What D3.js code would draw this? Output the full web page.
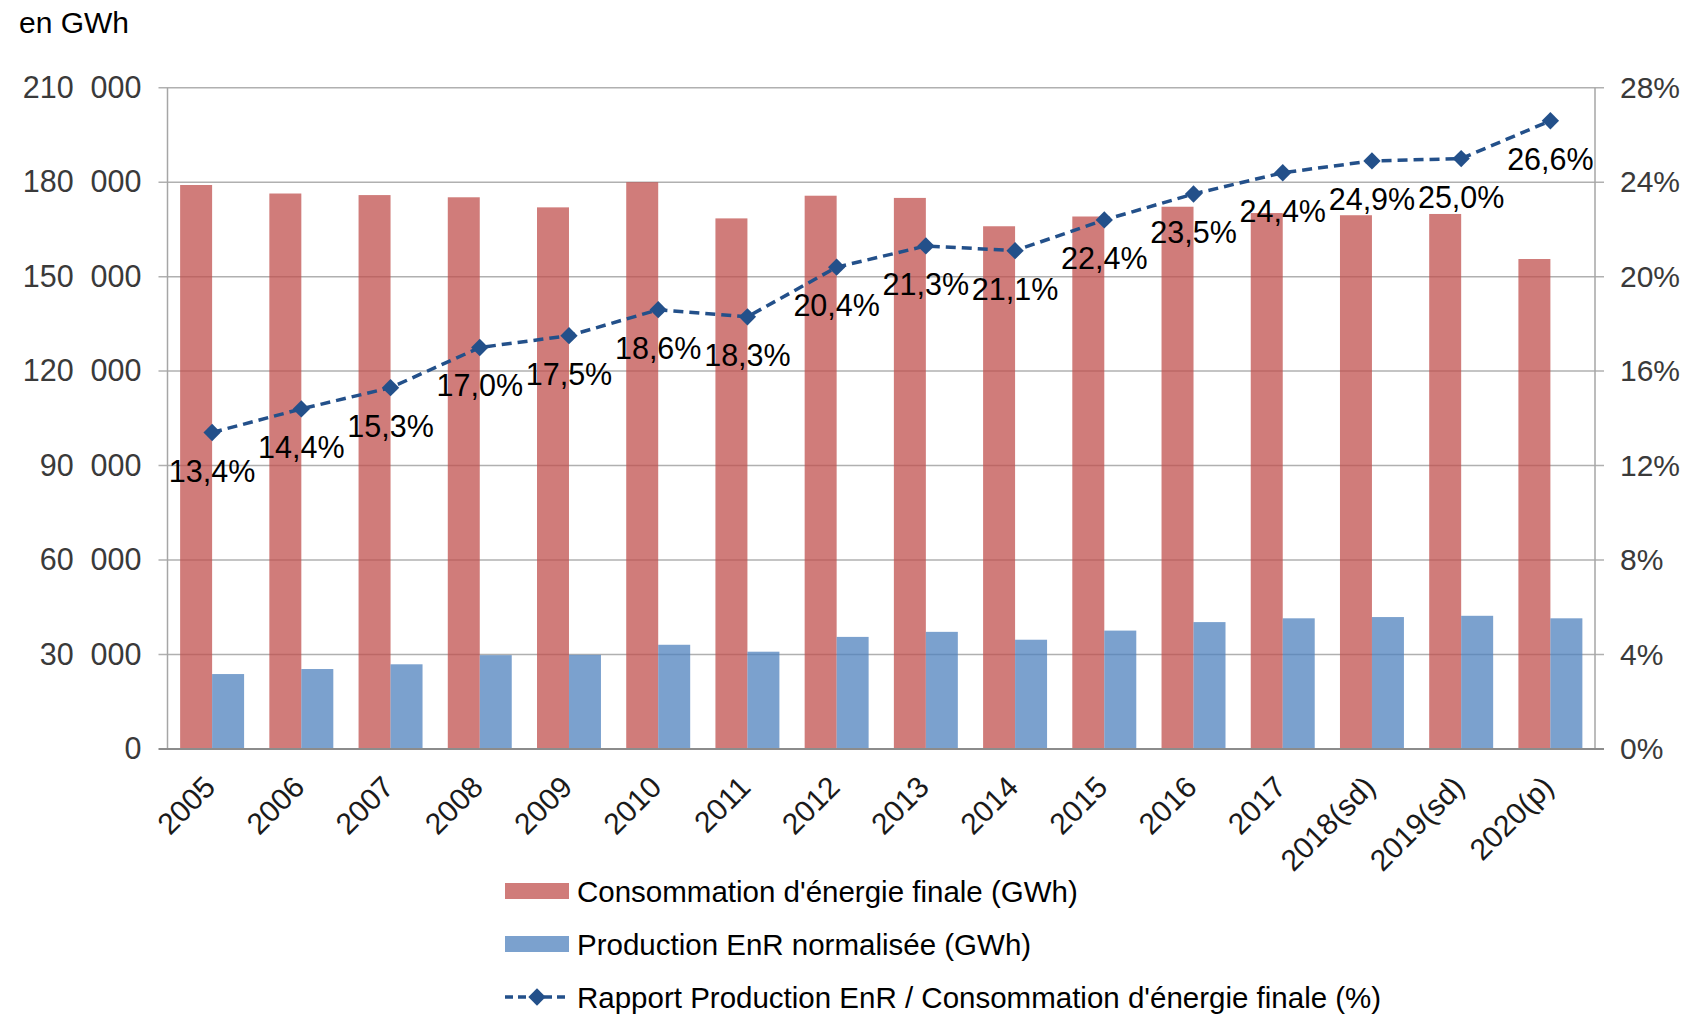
<!DOCTYPE html>
<html>
<head>
<meta charset="utf-8">
<script src="https://cdn.jsdelivr.net/npm/d3@7"></script>
<style>
  body { margin: 0; background: #fff; }
  svg text { font-family: "Liberation Sans", Arial, sans-serif; }
</style>
</head>
<body>
<svg id="chart" width="1693" height="1015"></svg>
<script>
// data
const years = ["2005", "2006", "2007", "2008", "2009", "2010", "2011", "2012", "2013", "2014", "2015", "2016", "2017", "2018(sd)", "2019(sd)", "2020(p)"];
const consommation = [179100, 176400, 175900, 175200, 172000, 180000, 168500, 175700, 175000, 166000, 169100, 172200, 170200, 169500, 169900, 155600];
const production = [23800, 25400, 26900, 29800, 29900, 33100, 30900, 35600, 37200, 34700, 37600, 40300, 41500, 41900, 42300, 41500];
const rapport = [13.4, 14.4, 15.3, 17.0, 17.5, 18.6, 18.3, 20.4, 21.3, 21.1, 22.4, 23.5, 24.4, 24.9, 25.0, 26.6];
const leftTicks = [0, 30000, 60000, 90000, 120000, 150000, 180000, 210000];
const rightTicks = [0, 4, 8, 12, 16, 20, 24, 28];
const seriesNames = ["Consommation d'énergie finale (GWh)", "Production EnR normalisée (GWh)", "Rapport Production EnR / Consommation d'énergie finale (%)"];

const fr = d3.formatLocale({ decimal: ",", thousands: "\u00a0\u00a0", grouping: [3], currency: ["", " €"] });
const fmtGWh = fr.format(",d");
const fmtPct = fr.format(".1f");

const svg = d3.select("#chart");
const plotLeft = 167.5, plotRight = 1595, plotTop = 87.7, plotBottom = 749;

const x = d3.scaleBand().domain(years).range([plotLeft, plotRight]).paddingInner(0.283).paddingOuter(0.1415);
const xs = d3.scaleBand().domain(["c", "p"]).range([0, x.bandwidth()]);
const yL = d3.scaleLinear().domain([0, 210000]).range([plotBottom, plotTop]);
const yR = d3.scaleLinear().domain([0, 28]).range([plotBottom, plotTop]);
const xc = (d) => x(d) + x.bandwidth() / 2;

// gridlines
svg.append("g")
  .selectAll("line")
  .data(leftTicks.slice(1))
  .enter()
  .append("line")
  .attr("x1", plotLeft - 9).attr("x2", plotRight + 9)
  .attr("y1", (d) => yL(d)).attr("y2", (d) => yL(d))
  .attr("stroke", "#b0b0b0").attr("stroke-width", 1.5);

// axis labels
const yAxisL = svg.append("g")
  .attr("transform", `translate(${plotLeft},0)`)
  .call(d3.axisLeft(yL).tickValues(leftTicks).tickSize(0).tickPadding(26).tickFormat(fmtGWh));
yAxisL.select(".domain").remove();
yAxisL.selectAll("text").attr("font-size", 30.5).attr("fill", "#3a3a3a").attr("font-family", "Liberation Sans, Arial, sans-serif");

const yAxisR = svg.append("g")
  .attr("transform", `translate(${plotRight},0)`)
  .call(d3.axisRight(yR).tickValues(rightTicks).tickSize(0).tickPadding(25).tickFormat((d) => d + "%"));
yAxisR.select(".domain").remove();
yAxisR.selectAll("text").attr("font-size", 30).attr("fill", "#3a3a3a").attr("font-family", "Liberation Sans, Arial, sans-serif");

// bars
const groups = svg.append("g")
  .selectAll("g")
  .data(years)
  .enter()
  .append("g")
  .attr("transform", (d) => `translate(${x(d)},0)`);

groups.append("rect")
  .attr("x", xs("c")).attr("width", xs.bandwidth())
  .attr("y", (d, i) => yL(consommation[i]))
  .attr("height", (d, i) => plotBottom - yL(consommation[i]))
  .attr("fill", "#C0504D").attr("fill-opacity", 0.75);

groups.append("rect")
  .attr("x", xs("p")).attr("width", xs.bandwidth())
  .attr("y", (d, i) => yL(production[i]))
  .attr("height", (d, i) => plotBottom - yL(production[i]))
  .attr("fill", "#4F81BD").attr("fill-opacity", 0.75);

// axis lines
svg.append("line").attr("x1", plotLeft).attr("x2", plotLeft).attr("y1", plotTop).attr("y2", plotBottom)
  .attr("stroke", "#a6a6a6").attr("stroke-width", 1.5);
svg.append("line").attr("x1", plotRight).attr("x2", plotRight).attr("y1", plotTop).attr("y2", plotBottom)
  .attr("stroke", "#a6a6a6").attr("stroke-width", 1.5);
svg.append("line").attr("x1", plotLeft - 9).attr("x2", plotRight + 9).attr("y1", plotBottom).attr("y2", plotBottom)
  .attr("stroke", "#8c8c8c").attr("stroke-width", 2);

// x labels
svg.append("g")
  .selectAll("text")
  .data(years)
  .enter()
  .append("text")
  .attr("transform", (d) => `translate(${xc(d) + 5},${plotBottom + 40}) rotate(-45)`)
  .attr("text-anchor", "end")
  .attr("font-size", 30)
  .attr("fill", "#1a1a1a")
  .text((d) => d);

// ratio line
const line = d3.line()
  .x((d, i) => xc(years[i]))
  .y((d) => yR(d));

svg.append("path")
  .attr("d", line(rapport))
  .attr("fill", "none")
  .attr("stroke", "#23508A")
  .attr("stroke-width", 3.5)
  .attr("stroke-dasharray", "10,6");

const diamond = d3.symbol().type(d3.symbolSquare).size(150);
svg.append("g")
  .selectAll("path")
  .data(rapport)
  .enter()
  .append("path")
  .attr("d", diamond)
  .attr("transform", (d, i) => `translate(${xc(years[i])},${yR(d)}) rotate(45)`)
  .attr("fill", "#23508A");

svg.append("g")
  .selectAll("text")
  .data(rapport)
  .enter()
  .append("text")
  .attr("x", (d, i) => xc(years[i]))
  .attr("y", (d) => yR(d) + 49)
  .attr("text-anchor", "middle")
  .attr("font-size", 30.5)
  .attr("fill", "#000")
  .text((d) => fmtPct(d) + "%");

// unit
svg.append("text").attr("x", 19).attr("y", 33).attr("font-size", 30).attr("fill", "#000").text("en GWh");

// legend
const legend = svg.append("g").attr("transform", "translate(505,0)");
const rows = [891, 944, 997];
legend.append("rect").attr("x", 0).attr("y", rows[0] - 8).attr("width", 64).attr("height", 16)
  .attr("fill", "#C0504D").attr("fill-opacity", 0.75);
legend.append("rect").attr("x", 0).attr("y", rows[1] - 8).attr("width", 64).attr("height", 16)
  .attr("fill", "#4F81BD").attr("fill-opacity", 0.75);
legend.append("line").attr("x1", 0).attr("x2", 64).attr("y1", rows[2]).attr("y2", rows[2])
  .attr("stroke", "#23508A").attr("stroke-width", 3.5).attr("stroke-dasharray", "8,5");
legend.append("path").attr("d", diamond).attr("transform", `translate(32,${rows[2]}) rotate(45)`).attr("fill", "#23508A");
legend.selectAll("text.lab")
  .data(seriesNames)
  .enter()
  .append("text")
  .attr("class", "lab")
  .attr("x", 72)
  .attr("y", (d, i) => rows[i])
  .attr("dy", "0.36em")
  .attr("font-size", 29.5)
  .attr("fill", "#000")
  .text((d) => d);
</script>
</body>
</html>
